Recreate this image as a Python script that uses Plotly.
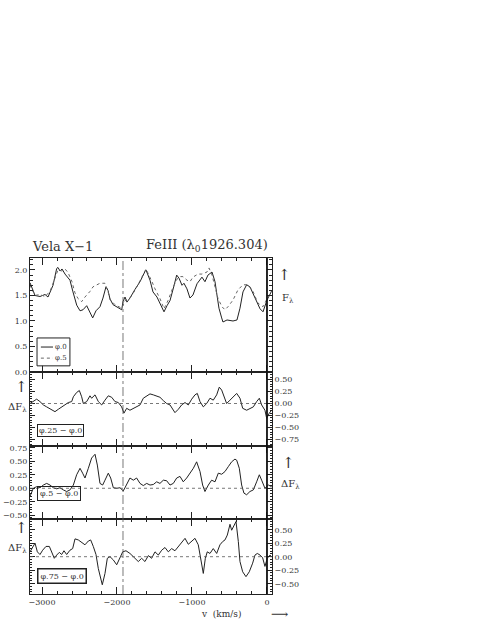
import plotly.graph_objects as go
from plotly.subplots import make_subplots

# top panel: F_lambda at phase 0 (solid) and phase .5 (dotted), v in km/s
v_phi0 = [-3160, -3093, -3027, -2960, -2920, -2893, -2853, -2804, -2787, -2760, -2733, -2693,
          -2627, -2587, -2537, -2493, -2453, -2404, -2360, -2324, -2280, -2227, -2187, -2147,
          -2120, -2093, -2053, -1987, -1937, -1920, -1893, -1867, -1827, -1760, -1693, -1627,
          -1613, -1560, -1520, -1467, -1427, -1373, -1333, -1293, -1240, -1204, -1173, -1133,
          -1107, -1067, -1027, -987, -933, -867, -827, -787, -733, -693, -667, -640, -604,
          -587, -533, -453, -400, -360, -320, -271, -227, -187, -133, -93, -53, 0, 67]
flux_phi0 = [1.75, 1.50, 1.48, 1.52, 1.47, 1.55, 1.70, 2.03, 2.05, 1.98, 2.02, 1.92,
             1.80, 1.57, 1.31, 1.20, 1.22, 1.30, 1.16, 1.06, 1.20, 1.28, 1.45, 1.67,
             1.60, 1.43, 1.32, 1.27, 1.22, 1.38, 1.47, 1.37, 1.45, 1.62, 1.77, 1.97,
             2.00, 1.80, 1.57, 1.47, 1.34, 1.18, 1.30, 1.40, 1.69, 1.90, 1.84, 1.70,
             1.74, 1.63, 1.45, 1.51, 1.73, 1.86, 1.77, 1.90, 1.96, 1.77, 1.51, 1.25, 1.06,
             0.98, 1.02, 1.00, 1.02, 1.25, 1.57, 1.71, 1.67, 1.54, 1.37, 1.24, 1.18, 1.41, 1.60]

v_phi5 = [-3160, -3093, -3027, -2960, -2893, -2853, -2804, -2787, -2733, -2693, -2653, -2600,
          -2560, -2520, -2471, -2427, -2360, -2320, -2267, -2227, -2160, -2120, -2093, -2027,
          -1937, -1893, -1827, -1760, -1693, -1613, -1533, -1493, -1427, -1373, -1320, -1253,
          -1200, -1160, -1120, -1067, -1027, -987, -920, -867, -800, -773, -733, -693, -653,
          -600, -560, -520, -453, -387, -320, -253, -187, -120, -53, 13, 67]
flux_phi5 = [1.70, 1.50, 1.52, 1.48, 1.58, 1.75, 1.95, 2.00, 1.98, 2.02, 1.95, 1.77,
             1.55, 1.44, 1.38, 1.47, 1.58, 1.67, 1.71, 1.74, 1.74, 1.58, 1.42, 1.32,
             1.25, 1.40, 1.45, 1.60, 1.79, 2.02, 1.77, 1.63, 1.44, 1.24, 1.40, 1.66,
             1.82, 1.87, 1.87, 1.80, 1.77, 1.86, 1.92, 1.92, 1.96, 2.04, 1.90, 1.64, 1.44,
             1.28, 1.22, 1.28, 1.41, 1.61, 1.71, 1.71, 1.58, 1.35, 1.28, 1.47, 1.60]

# difference spectra
v_d25 = [-3160, -3116, -3071, -3027, -2982, -2938, -2871, -2827, -2782, -2738, -2693, -2649,
         -2604, -2582, -2538, -2502, -2471, -2449, -2404, -2382, -2360, -2338, -2293, -2249,
         -2204, -2160, -2116, -2071, -2027, -1982, -1938, -1907, -1871, -1827, -1782, -1738,
         -1693, -1649, -1604, -1560, -1516, -1471, -1427, -1382, -1338, -1293, -1227, -1182,
         -1138, -1093, -1049, -1004, -960, -929, -893, -849, -804, -760, -716, -671, -636,
         -604, -573, -538, -493, -449, -404, -360, -324, -271, -227, -182, -138, -102, -71,
         -27, -4, 31, 62]
dflux_25 = [0.00, 0.04, 0.09, 0.04, -0.03, -0.07, -0.14, -0.17, -0.12, -0.07, -0.03, 0.02,
            0.04, 0.14, 0.23, 0.27, 0.14, 0.00, 0.04, 0.11, 0.16, 0.11, 0.18, 0.04,
            -0.03, 0.07, 0.16, 0.13, 0.04, 0.02, -0.07, -0.20, -0.10, -0.14, -0.10, -0.07,
            -0.03, 0.11, 0.16, 0.20, 0.18, 0.16, 0.13, 0.06, 0.00, -0.03, -0.19, -0.12,
            -0.03, 0.02, -0.03, 0.09, 0.18, 0.21, 0.04, -0.07, 0.00, 0.11, 0.07, 0.18, 0.34,
            0.28, 0.14, 0.00, 0.07, 0.14, 0.21, 0.11, -0.10, -0.14, -0.10, -0.07, 0.04, 0.11, -0.03,
            -0.14, -0.31, -0.20, -0.14]

v_d5 = [-3160, -3116, -3071, -3027, -2982, -2938, -2893, -2849, -2804, -2760, -2716, -2671,
        -2627, -2582, -2538, -2493, -2458, -2427, -2382, -2338, -2293, -2262, -2227, -2191,
        -2160, -2116, -2084, -2049, -2004, -1960, -1916, -1871, -1827, -1782, -1738, -1693,
        -1649, -1604, -1560, -1516, -1471, -1427, -1382, -1338, -1293, -1249, -1204, -1160,
        -1116, -1071, -1027, -982, -938, -893, -858, -827, -782, -738, -693, -649, -604,
        -560, -516, -471, -427, -404, -369, -338, -307, -271, -227, -182, -138, -102, -71,
        -27, 18, 62]
dflux_5 = [-0.15, 0.00, 0.03, 0.01, 0.06, 0.09, 0.06, 0.01, -0.01, 0.01, -0.03, -0.06,
           -0.03, 0.06, 0.25, 0.37, 0.28, 0.19, 0.37, 0.56, 0.63, 0.43, 0.09, 0.06,
           0.15, 0.28, 0.19, 0.01, 0.00, 0.01, -0.05, 0.06, 0.19, 0.15, 0.19, 0.09,
           0.05, 0.09, 0.06, 0.07, 0.12, 0.09, 0.15, 0.14, 0.06, 0.09, 0.19, 0.22,
           0.12, 0.19, 0.28, 0.37, 0.49, 0.31, 0.06, -0.06, 0.06, 0.15, 0.12, 0.28, 0.26,
           0.31, 0.40, 0.49, 0.54, 0.52, 0.37, 0.06, -0.09, -0.12, -0.06, -0.03, 0.12, 0.25, 0.15,
           0.00, 0.06, 0.03]

v_d75 = [-3160, -3124, -3093, -3062, -3027, -2991, -2947, -2902, -2871, -2836, -2804, -2769,
         -2738, -2707, -2671, -2627, -2591, -2560, -2516, -2471, -2427, -2382, -2351, -2316,
         -2280, -2249, -2227, -2196, -2160, -2129, -2093, -2049, -2004, -1960, -1924, -1880,
         -1827, -1782, -1716, -1671, -1627, -1582, -1538, -1493, -1449, -1404, -1360, -1316,
         -1271, -1227, -1182, -1138, -1093, -1049, -1004, -960, -916, -884, -849, -822, -796,
         -760, -716, -671, -627, -591, -560, -529, -493, -471, -440, -413, -382, -360, -324,
         -280, -236, -191, -160, -129, -93, -58, -27, 4, 40, 62]
dflux_75 = [0.09, 0.19, 0.25, 0.09, 0.04, 0.12, 0.19, 0.19, 0.09, -0.03, 0.03, 0.08,
            0.04, 0.11, 0.04, 0.12, 0.15, 0.33, 0.31, 0.27, 0.22, 0.29, 0.31, 0.19,
            0.04, -0.22, -0.34, -0.52, -0.31, -0.03, 0.00, -0.06, -0.15, -0.03, 0.09, 0.11,
            0.06, 0.00, -0.09, -0.03, -0.09, 0.02, -0.03, 0.09, 0.03, 0.12, 0.17, 0.09,
            0.15, 0.11, 0.19, 0.25, 0.34, 0.23, 0.28, 0.34, 0.22, 0.00, -0.31, -0.03, 0.09,
            0.06, 0.15, 0.06, 0.22, 0.28, 0.31, 0.40, 0.60, 0.49, 0.59, 0.65, 0.28, -0.09, -0.28,
            -0.37, -0.28, -0.12, 0.03, 0.06, 0.03, -0.02, -0.18, -0.03, 0.03, 0.00]

v_marker = -1920   # dash-dot reference line
x_ticks = [-3000, -2000, -1000, 0]
phase_names = ["φ.0", "φ.5"]

ink = "#222"
serif = "DejaVu Serif"

fig = make_subplots(rows=4, cols=1, shared_xaxes=True, vertical_spacing=0,
                    row_heights=[114, 74, 73, 75])

fig.add_trace(go.Scatter(x=v_phi0, y=flux_phi0, mode="lines", name=phase_names[0],
                         line=dict(color=ink, width=1)), row=1, col=1)
fig.add_trace(go.Scatter(x=v_phi5, y=flux_phi5, mode="lines", name=phase_names[1],
                         line=dict(color="#666", width=1, dash="dot")), row=1, col=1)
fig.add_trace(go.Scatter(x=v_d25, y=dflux_25, mode="lines",
                         line=dict(color=ink, width=1)), row=2, col=1)
fig.add_trace(go.Scatter(x=v_d5, y=dflux_5, mode="lines",
                         line=dict(color=ink, width=1)), row=3, col=1)
fig.add_trace(go.Scatter(x=v_d75, y=dflux_75, mode="lines",
                         line=dict(color=ink, width=1)), row=4, col=1)

tickfont = dict(family=serif, size=8, color="#333")
for r in range(1, 5):
    fig.update_xaxes(range=[-3160, 67], tickvals=x_ticks, ticktext=["−3000", "−2000", "−1000", "0"],
                     ticks="inside", ticklen=7, tickcolor=ink, showline=True, linecolor=ink,
                     linewidth=1, mirror="allticks", showgrid=False, zeroline=False,
                     automargin=False,
                     minor=dict(ticks="inside", dtick=200, tick0=0, ticklen=3, tickcolor=ink),
                     tickfont=tickfont, row=r, col=1)

yaxis_common = dict(ticks="inside", ticklen=5, tickcolor=ink, showline=True, linecolor=ink,
                    linewidth=1, mirror="allticks", showgrid=False, zeroline=False,
                    automargin=False, tickfont=tickfont)
fig.update_yaxes(range=[0, 2.235], dtick=0.5, tick0=0, tickformat=".1f", side="left",
                 minor=dict(ticks="inside", dtick=0.1, ticklen=3, tickcolor=ink),
                 row=1, col=1, **yaxis_common)
fig.update_yaxes(range=[-0.885, 0.656], dtick=0.25, tick0=0, tickformat=".2f", side="right",
                 minor=dict(ticks="inside", dtick=0.05, ticklen=2, tickcolor=ink),
                 row=2, col=1, **yaxis_common)
fig.update_yaxes(range=[-0.569, 0.783], dtick=0.25, tick0=0, tickformat=".2f", side="left",
                 minor=dict(ticks="inside", dtick=0.05, ticklen=2, tickcolor=ink),
                 row=3, col=1, **yaxis_common)
fig.update_yaxes(range=[-0.691, 0.698], dtick=0.25, tick0=0, tickformat=".2f", side="right",
                 minor=dict(ticks="inside", dtick=0.05, ticklen=2, tickcolor=ink),
                 row=4, col=1, **yaxis_common)

# zero lines in the difference panels
for yr in ["y2", "y3", "y4"]:
    fig.add_shape(type="line", xref="x domain", x0=0, x1=1, yref=yr, y0=0, y1=0,
                  line=dict(color="#555", width=0.8, dash="dot"))
# vertical reference lines through all panels
fig.add_shape(type="line", xref="x", x0=v_marker, x1=v_marker, yref="paper", y0=0, y1=1,
              line=dict(color="#555", width=0.8, dash="dashdot"))
fig.add_shape(type="line", xref="x", x0=0, x1=0, yref="paper", y0=0, y1=1,
              line=dict(color="#111", width=1.8))

# small boxed key in the top panel, drawn by hand to keep it compact
fig.add_shape(type="rect", xref="paper", yref="paper", x0=0.029, x1=0.165, y0=0.679, y1=0.762,
              line=dict(color=ink, width=1), fillcolor="white")
fig.add_shape(type="line", xref="paper", yref="paper", x0=0.045, x1=0.095, y0=0.735, y1=0.735,
              line=dict(color=ink, width=1))
fig.add_shape(type="line", xref="paper", yref="paper", x0=0.045, x1=0.095, y0=0.702, y1=0.702,
              line=dict(color="#666", width=1, dash="dot"))

txt = dict(family=serif, color="#333")
ann = [
    dict(text="Vela X−1", x=0, y=1, xanchor="left", yanchor="bottom", yshift=2,
         font=dict(size=13, **txt)),
    dict(text="FeIII (λ<sub>0</sub>1926.304)", x=0.99, y=1, xanchor="right", yanchor="bottom",
         yshift=2, font=dict(size=13, **txt)),
    dict(text=phase_names[0], x=0.13, y=0.735, font=dict(size=7, **txt)),
    dict(text=phase_names[1], x=0.13, y=0.702, font=dict(size=7, **txt)),
    dict(text="↑", x=1.05, y=0.95, font=dict(size=15, **txt)),
    dict(text="F<sub>λ</sub>", x=1.065, y=0.88, font=dict(size=10, **txt)),
    dict(text="↑", x=-0.035, y=0.615, font=dict(size=15, **txt)),
    dict(text="ΔF<sub>λ</sub>", x=-0.05, y=0.555, font=dict(size=10, **txt)),
    dict(text="↑", x=1.07, y=0.39, font=dict(size=15, **txt)),
    dict(text="ΔF<sub>λ</sub>", x=1.075, y=0.325, font=dict(size=10, **txt)),
    dict(text="↑", x=-0.035, y=0.195, font=dict(size=15, **txt)),
    dict(text="ΔF<sub>λ</sub>", x=-0.05, y=0.135, font=dict(size=10, **txt)),
    dict(text="φ.25 − φ.0", x=0.03, y=0.488, xanchor="left",
         bordercolor=ink, borderwidth=1, borderpad=1, font=dict(size=8, **txt)),
    dict(text="φ.5 − φ.0", x=0.03, y=0.30, xanchor="left",
         bordercolor=ink, borderwidth=1, borderpad=2, font=dict(size=8, **txt)),
    dict(text="φ.75 − φ.0", x=0.03, y=0.054, xanchor="left",
         bordercolor=ink, borderwidth=1.5, borderpad=2, font=dict(size=8, **txt)),
    dict(text="v  (km/s)", x=0.79, y=-0.06, font=dict(size=9, **txt)),
    dict(text="⟶", x=1.03, y=-0.06, font=dict(size=12, **txt)),
]
for a in ann:
    a.setdefault("xref", "paper")
    a.setdefault("yref", "paper")
    a.setdefault("xanchor", "center")
    a.setdefault("yanchor", "middle")
    a["showarrow"] = False
fig.update_layout(annotations=ann)

fig.update_layout(
    width=480, height=621,
    margin=dict(l=30, r=208, t=258, b=27),
    paper_bgcolor="white", plot_bgcolor="white",
    showlegend=False,
)

# the page body has a default margin; drop it so the figure sits at the window corner
fig.write_html("out.html", config={"displayModeBar": False},
               post_script="document.body.style.margin='0';")
